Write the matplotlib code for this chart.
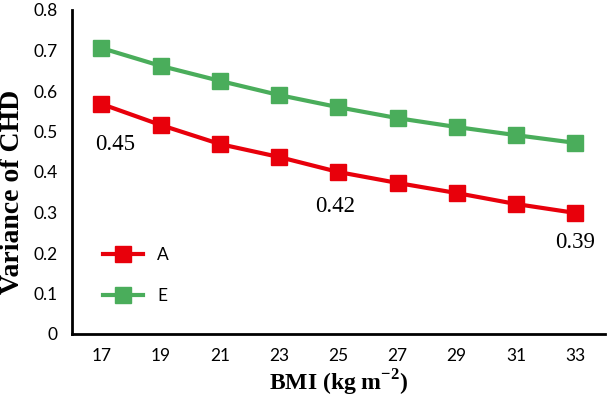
import matplotlib.pyplot as plt

# data
bmi = [17, 19, 21, 23, 25, 27, 29, 31, 33]
var_a = [0.568, 0.516, 0.469, 0.437, 0.400, 0.373, 0.348, 0.321, 0.299]
var_e = [0.706, 0.662, 0.625, 0.590, 0.560, 0.533, 0.511, 0.491, 0.472]
notes = [(17, 0.45), (25, 0.42), (33, 0.39)]

red = '#e8000b'
green = '#4aad5b'

plt.rcParams['mathtext.fontset'] = 'custom'
plt.rcParams['mathtext.rm'] = 'Liberation Serif:bold'
plt.rcParams['mathtext.bf'] = 'Liberation Serif:bold'

fig = plt.figure(figsize=(6.09, 4.0), dpi=100)
ax = fig.add_axes([0.118, 0.165, 0.875, 0.81])

ax.plot(bmi, var_a, color=red, lw=3, marker='s', ms=11, label='A')
ax.plot(bmi, var_e, color=green, lw=3, marker='s', ms=11, label='E')

# value labels under the red line
offsets = {17: (0.45, -0.101), 25: (-0.1, -0.086), 33: (0.0, -0.074)}
for x, v in notes:
    i = bmi.index(x)
    dx, dy = offsets[x]
    ax.text(x + dx, var_a[i] + dy, f'{v:.2f}', ha='center', va='center',
            fontsize=16.5, family='Liberation Serif')

ax.set_xlim(16, 34)
ax.set_ylim(0, 0.8)
ax.set_xticks(bmi)
ax.set_yticks([0, 0.1, 0.2, 0.3, 0.4, 0.5, 0.6, 0.7, 0.8])
ax.set_yticklabels(['0', '0.1', '0.2', '0.3', '0.4', '0.5', '0.6', '0.7', '0.8'])
ax.tick_params(length=0, labelsize=12.5, pad=10)
for lab in ax.get_xticklabels() + ax.get_yticklabels():
    lab.set_family('Lato')

for s in ['top', 'right']:
    ax.spines[s].set_visible(False)
for s in ['left', 'bottom']:
    ax.spines[s].set_linewidth(2)

ax.set_xlabel('BMI (kg m$^{\\mathrm{-2}}$)', fontsize=17, fontweight='bold',
              family='Liberation Serif', labelpad=3)
ax.set_ylabel('Variance of CHD', fontsize=20, fontweight='bold',
              family='Liberation Serif', va='center')
ax.yaxis.set_label_coords(-0.112, 0.438)

leg = ax.legend(loc='lower left', bbox_to_anchor=(0.03, 0.045), frameon=False,
                prop={'family': 'Lato', 'size': 12.5}, handlelength=2.3,
                labelspacing=1.4)

fig.savefig('out.png', dpi=100)
